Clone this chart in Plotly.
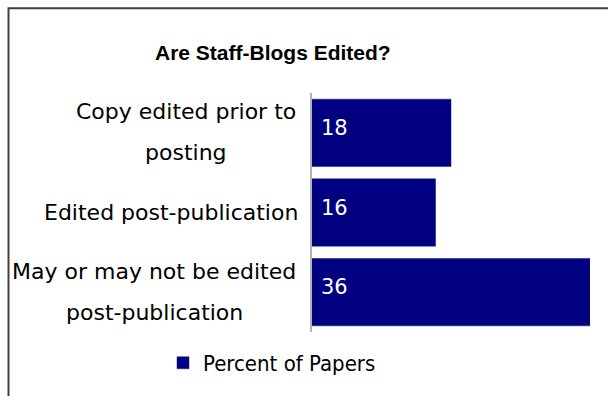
import plotly.graph_objects as go

# Survey results: how staff blogs are edited
categories = ["Copy edited prior to posting",
              "Edited post-publication",
              "May or may not be edited post-publication"]
label_lines = [["Copy edited prior to", "posting"],
               ["Edited post-publication"],
               ["May or may not be edited", "post-publication"]]
percent = [18, 16, 36]
series_name = "Percent of Papers"
chart_title = "Are Staff-Blogs Edited?"

W, H = 608, 396
L, R, T, B = 312, 18, 93, 56
PW, PH = W - L - R, H - T - B


def px_x(p):
    return (p - L) / PW


def px_y(p):
    return 1 - (p - T) / PH


NAVY = "#000080"
LABEL_FONT = dict(family="DejaVu Sans", size=22, color="#000000")

fig = go.Figure()
fig.add_trace(go.Bar(
    y=categories, x=percent, orientation="h", name=series_name,
    marker=dict(color=NAVY, line=dict(color="#1a1a8c", width=0.5)),
    showlegend=True, hoverinfo="skip",
))

annotations = []
# category labels, each line centred over the label block
centers = [186, 171, 154]
for cat, lines, cx in zip(categories, label_lines, centers):
    if len(lines) == 1:
        shifts = [0]
    else:
        shifts = [21, -20]
    for text, sh in zip(lines, shifts):
        annotations.append(dict(
            xref="paper", yref="y", x=px_x(cx), y=cat, text=text,
            xanchor="center", yanchor="middle", yshift=sh,
            showarrow=False, font=LABEL_FONT))

# value labels inside the bars near the base
for cat, v in zip(categories, percent):
    annotations.append(dict(
        xref="x", yref="y", x=0, y=cat, text=str(v), xanchor="left",
        yanchor="middle", xshift=7, yshift=5, showarrow=False,
        font=dict(family="DejaVu Sans", size=21, color="#ffffff")))

annotations.append(dict(
    xref="paper", yref="paper", x=px_x(273), y=px_y(51), text="<b>" + chart_title + "</b>",
    xanchor="center", yanchor="middle", showarrow=False,
    font=dict(family="Liberation Sans", size=21, color="#000000")))

fig.update_layout(
    width=W, height=H,
    margin=dict(l=L, r=R, t=T, b=B, pad=0),
    paper_bgcolor="#ffffff", plot_bgcolor="#ffffff",
    bargap=0.155,
    xaxis=dict(range=[0, 36], visible=False, fixedrange=True),
    yaxis=dict(autorange="reversed", showticklabels=False, ticks="",
               showgrid=False, zeroline=False, showline=True,
               linecolor="#b3b3b3", linewidth=1.5, fixedrange=True),
    legend=dict(orientation="h", xref="paper", yref="paper",
                x=px_x(163), y=px_y(372), xanchor="left", yanchor="middle",
                font=dict(family="DejaVu Sans Condensed", size=22, color="#000000"),
                bgcolor="rgba(0,0,0,0)"),
    annotations=annotations,
    shapes=[dict(type="rect", xref="paper", yref="paper",
                 x0=px_x(8.5), x1=px_x(640), y0=px_y(440), y1=px_y(5.5),
                 line=dict(color="#404040", width=2), layer="below")],
)

fig.write_html("out.html", config={"displayModeBar": False})
